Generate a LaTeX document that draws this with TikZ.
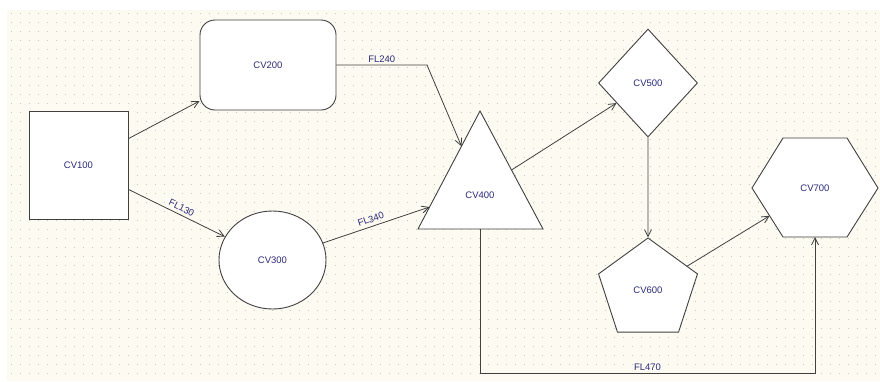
\documentclass[tikz,border=0pt]{standalone}
\usepackage{fontspec}
\setmainfont{Liberation Sans}
\usetikzlibrary{shapes.geometric, arrows.meta}
\definecolor{paper}{HTML}{FDFBF1}
\definecolor{griddot}{HTML}{C8C8C0}
\definecolor{edgeink}{HTML}{404040}
\definecolor{labelink}{HTML}{2A2A78}

\begin{document}
\begin{tikzpicture}[x=1pt, y=-1pt,
  shapebox/.style={draw=edgeink, fill=white, line width=0.9pt, inner sep=0pt,
    font=\fontsize{9.5}{11}\selectfont, text=labelink},
  outline/.style={draw=edgeink, fill=white, line width=0.9pt},
  flow/.style={draw=edgeink, line width=0.8pt, -{Straight Barb[length=7pt,width=7pt]}},
  tag/.style={font=\fontsize{9.5}{11}\selectfont, text=labelink, inner sep=1pt},
]
\useasboundingbox (0,0) rectangle (880,381);
\fill[white] (0,0) rectangle (880,381);
\fill[paper] (7,10) rectangle (880,381);
% dotted drawing grid
\foreach \k in {0,...,40} {
  \draw[griddot, line width=1pt, dash pattern=on 1pt off 8pt]
    (10.5,13.3+9*\k) -- (880,13.3+9*\k);
}

% process blocks
\node[shapebox, rectangle, minimum width=99pt, minimum height=108pt] (cv100) at (78.5,165) {CV100};
\node[shapebox, rectangle, rounded corners=15pt, minimum width=136pt, minimum height=90pt] (cv200) at (268,65) {CV200};
\node[shapebox, ellipse, minimum width=107pt, minimum height=98pt] (cv300) at (272.5,260) {CV300};
\node[shapebox, diamond, minimum width=99pt, minimum height=108pt] (cv500) at (648,83) {CV500};
\node[shapebox, regular polygon, regular polygon sides=5, minimum size=104pt] (cv600) at (648,290) {CV600};

% triangle block
\draw[outline] (480,111) -- (543,229) -- (418,229) -- cycle;
\node[tag] (cv400) at (480,195) {CV400};
\coordinate (cv400in24) at (461.5,146.3);
\coordinate (cv400in34) at (429.5,207);
\coordinate (cv400out45) at (511.5,170);
\coordinate (cv400out47) at (480,229);

% hexagon block
\draw[outline] (752,188) -- (783,138) -- (847,138) -- (878,188) -- (847,237) -- (783,237) -- cycle;
\node[tag] (cv700) at (815,188) {CV700};
\coordinate (cv700in67) at (769.6,215.8);
\coordinate (cv700in47) at (815,237);

% bend points
\coordinate (bend24) at (427,65);
\coordinate (bend47a) at (480,373);
\coordinate (bend47b) at (815,373);

% flows
\draw[flow] (cv100) -- (cv200);
\draw[flow] (cv100) -- node[tag, sloped, above=2pt, pos=0.52] {FL130} (cv300);
\draw[flow] (cv200.east) -- node[tag, above=1.5pt] {FL240} (bend24) -- (cv400in24);
\draw[flow] (cv300) -- node[tag, sloped, above=2.5pt, pos=0.47] {FL340} (cv400in34);
\draw[flow] (cv400out45) -- (cv500);
\draw[flow] (cv500) -- (cv600);
\draw[flow] (cv600) -- (cv700in67);
\draw[flow] (cv400out47) -- (bend47a) -- node[tag, above=1.5pt] {FL470} (bend47b) -- (cv700in47);
\end{tikzpicture}
\end{document}
